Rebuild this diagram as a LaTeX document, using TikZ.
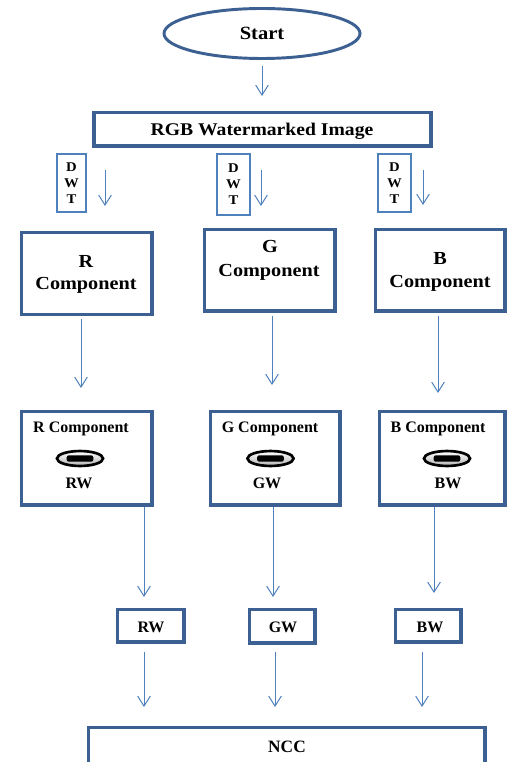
\documentclass[tikz,border=0pt]{standalone}
\usepackage{fontspec}
\newfontfamily\timesf{Liberation Serif}
\newfontfamily\widef[FakeStretch=1.1]{Liberation Serif}
\usetikzlibrary{arrows.meta,shapes.geometric,fit}
\definecolor{boxblue}{RGB}{60,96,145}
\definecolor{arrblue}{RGB}{79,129,189}
\begin{document}
\begin{tikzpicture}[x=0.75pt,y=-0.75pt,
  tbox/.style={draw=boxblue, line width=2.9pt, inner sep=0pt},
  dbox/.style={draw=arrblue, line width=0.9pt, inner sep=0pt},
  arr/.style={draw=arrblue, line width=0.75pt, -{Straight Barb[length=7.5pt,width=9.5pt]}},
  lmtext/.style={font=\widef\fontsize{13.8}{16}\selectfont\bfseries, anchor=base, inner sep=0pt},
  tmtext/.style={font=\timesf\fontsize{12}{14}\selectfont\bfseries, anchor=base, inner sep=0pt},
  dwttext/.style={font=\widef\fontsize{10}{12}\selectfont\bfseries, align=center, inner sep=0pt},
  iconpic/.pic={
    \draw[line width=2pt, top color=white, bottom color=black!30] (0,0) ellipse [x radius=17.3pt, y radius=5.6pt];
    \fill[black, rounded corners=1.6pt] (-10pt,-2.4pt) rectangle (10pt,2.4pt);
  }
]
\useasboundingbox (0,0) rectangle (507,762);
\clip (0,0) rectangle (507,762);
\fill[white] (0,0) rectangle (507,762);

% Start
\node[draw=boxblue, line width=2.2pt, ellipse, minimum width=147pt, minimum height=37.5pt, inner sep=0pt,
      font=\widef\fontsize{14}{16}\selectfont\bfseries] (start) at (262,33.5) {Start};

% RGB watermarked image
\node[tbox, fit={(94,112.5)(431,146)}] (rgb) {};
\node[lmtext, font=\widef\fontsize{13.4}{15}\selectfont\bfseries] (trgb) at (262,136) {RGB Watermarked Image};

% DWT boxes
\node[dbox, fit={(57,154)(86,212)}] (dwt1) {};
\node[dwttext] (tdwt1) at (dwt1.center) {D\\W\\T};
\node[dbox, fit={(217,154)(250,215)}] (dwt2) {};
\node[dwttext] (tdwt2) at (dwt2.center) {D\\W\\T};
\node[dbox, fit={(378,154)(411,212)}] (dwt3) {};
\node[dwttext] (tdwt3) at (dwt3.center) {D\\W\\T};

% Row 1 components
\node[tbox, fit={(21.5,232.5)(152,314.5)}] (r1) {};
\node[lmtext] (tr1a) at (86,268) {R};
\node[lmtext] (tr1b) at (86,290) {Component};
\node[tbox, fit={(204.5,229.5)(335,311)}] (g1) {};
\node[lmtext] (tg1a) at (270,253) {G};
\node[lmtext] (tg1b) at (269,277) {Component};
\node[tbox, fit={(375.5,229.5)(505,311)}] (b1) {};
\node[lmtext] (tb1a) at (440,265) {B};
\node[lmtext] (tb1b) at (440,288) {Component};

% Row 2 components with watermark
\node[tbox, fit={(21.5,411.5)(152,505)}] (r2) {};
\node[tmtext] (tr2a) at (81,432) {R Component};
\pic at (80,458.5) {iconpic};
\node[tmtext] (tr2b) at (79,488) {RW};
\node[tbox, fit={(210.5,411.5)(340,505)}] (g2) {};
\node[tmtext] (tg2a) at (270,432) {G Component};
\pic at (270.5,458.5) {iconpic};
\node[tmtext] (tg2b) at (267,488) {GW};
\node[tbox, fit={(379.5,411.5)(505,505)}] (b2) {};
\node[tmtext] (tb2a) at (438,432) {B Component};
\pic at (447,458.5) {iconpic};
\node[tmtext] (tb2b) at (448,488) {BW};

% Row 3 extracted watermarks
\node[tbox, fit={(117.5,609.5)(184,642)}] (rw3) {};
\node[tmtext] (trw3) at (151,632) {RW};
\node[tbox, fit={(249.5,609.5)(315,643)}] (gw3) {};
\node[tmtext] (tgw3) at (283,632) {GW};
\node[tbox, fit={(395.5,609.5)(461,642)}] (bw3) {};
\node[tmtext] (tbw3) at (430,632) {BW};

% NCC
\node[tbox, fit={(88.5,727.5)(485,775)}] (ncc) {};
\node[tmtext, font=\timesf\fontsize{13}{15}\selectfont\bfseries] (tncc) at (287,752) {NCC};

% connector end points
\coordinate (a0s) at (262,66);  \coordinate (a0e) at (262,96);
\coordinate (a1s) at (105,170); \coordinate (a1e) at (105,206);
\coordinate (a2s) at (261,170); \coordinate (a2e) at (261,206);
\coordinate (a3s) at (423,170); \coordinate (a3e) at (423,205);
\coordinate (b1s) at (81,319);  \coordinate (b1e) at (81,388);
\coordinate (b2s) at (272,316); \coordinate (b2e) at (272,385);
\coordinate (b3s) at (438,316); \coordinate (b3e) at (438,393);
\coordinate (c1s) at (144,507); \coordinate (c1e) at (144,597);
\coordinate (c2s) at (273,507); \coordinate (c2e) at (273,597);
\coordinate (c3s) at (434,507); \coordinate (c3e) at (434,593);
\coordinate (d1s) at (144,652); \coordinate (d1e) at (144,707);
\coordinate (d2s) at (275,652); \coordinate (d2e) at (275,707);
\coordinate (d3s) at (422,652); \coordinate (d3e) at (422,707);

\draw[arr] (a0s) -- (a0e);
\draw[arr] (a1s) -- (a1e);
\draw[arr] (a2s) -- (a2e);
\draw[arr] (a3s) -- (a3e);
\draw[arr] (b1s) -- (b1e);
\draw[arr] (b2s) -- (b2e);
\draw[arr] (b3s) -- (b3e);
\draw[arr] (c1s) -- (c1e);
\draw[arr] (c2s) -- (c2e);
\draw[arr] (c3s) -- (c3e);
\draw[arr] (d1s) -- (d1e);
\draw[arr] (d2s) -- (d2e);
\draw[arr] (d3s) -- (d3e);
\end{tikzpicture}
\end{document}
